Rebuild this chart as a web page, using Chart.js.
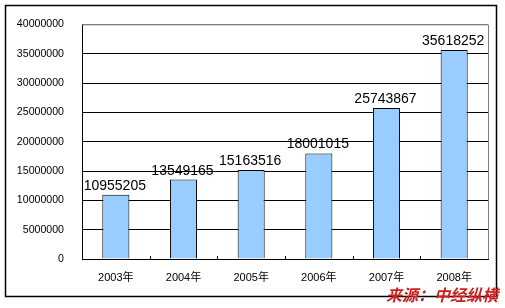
<!DOCTYPE html>
<html>
<head>
<meta charset="utf-8">
<script src="https://cdn.jsdelivr.net/npm/chart.js@4/dist/chart.umd.min.js"></script>
<style>
  html, body { margin: 0; padding: 0; background: #fff; }
  #wrap { width: 505px; height: 308px; }
</style>
</head>
<body>
<div id="wrap"><canvas id="c" width="505" height="308"></canvas></div>
<script>
const years = ['2003年', '2004年', '2005年', '2006年', '2007年', '2008年'];
const values = [10955205, 13549165, 15163516, 18001015, 25743867, 35618252];
const yTicks = [0, 5000000, 10000000, 15000000, 20000000, 25000000, 30000000, 35000000, 40000000];
const sourceText = '来源：中经纵横';

// frame, plot border, tick marks, value labels, source note
const decorations = {
  id: 'decorations',
  afterDraw(chart) {
    const ctx = chart.ctx;
    const area = chart.chartArea;
    const x = chart.scales.x;
    ctx.save();

    // gray border on the top and right of the plot
    ctx.strokeStyle = '#808080';
    ctx.lineWidth = 1;
    ctx.beginPath();
    ctx.moveTo(area.left, area.top + 0.5);
    ctx.lineTo(area.right + 0.5, area.top + 0.5);
    ctx.lineTo(area.right + 0.5, area.bottom);
    ctx.stroke();

    // small tick marks between categories, pointing up
    ctx.strokeStyle = '#000';
    ctx.beginPath();
    for (let i = 1; i < years.length; i++) {
      const px = Math.round((x.getPixelForValue(i - 1) + x.getPixelForValue(i)) / 2) + 0.5;
      ctx.moveTo(px, area.bottom);
      ctx.lineTo(px, area.bottom - 3);
    }
    ctx.stroke();

    // value labels above bars
    const meta = chart.getDatasetMeta(0);
    ctx.fillStyle = '#000';
    ctx.font = '14px "Liberation Sans", Arial, sans-serif';
    ctx.textAlign = 'center';
    ctx.textBaseline = 'alphabetic';
    meta.data.forEach((bar, i) => {
      ctx.fillText(String(values[i]), bar.x - 1, bar.y - 5);
    });

    // outer frame
    ctx.strokeStyle = '#000';
    ctx.lineWidth = 1.5;
    ctx.strokeRect(5.5, 5.5, 491, 291);

    // source note
    ctx.fillStyle = '#cc1f1f';
    ctx.font = 'italic bold 16px "Noto Sans CJK SC", sans-serif';
    ctx.textAlign = 'right';
    ctx.textBaseline = 'middle';
    ctx.fillText(sourceText, 498, 295);
    ctx.restore();
  }
};

new Chart(document.getElementById('c'), {
  type: 'bar',
  data: {
    labels: years,
    datasets: [{
      data: values,
      backgroundColor: '#99CCFF',
      borderColor: '#000',
      borderWidth: 1,
      barPercentage: 0.4,
      categoryPercentage: 1
    }]
  },
  options: {
    responsive: false,
    animation: false,
    layout: { padding: { left: 0, right: 17, top: 24, bottom: 0 } },
    plugins: { legend: { display: false }, tooltip: { enabled: false } },
    scales: {
      x: {
        grid: { display: false, drawTicks: false },
        border: { color: '#000', width: 1 },
        ticks: {
          color: '#000',
          padding: 12,
          font: { size: 11, family: '"Liberation Sans", "Noto Sans CJK SC", sans-serif' }
        },
        afterFit(scale) { scale.height = 49; }
      },
      y: {
        min: 0,
        max: 40000000,
        afterBuildTicks(scale) { scale.ticks = yTicks.map(v => ({ value: v })); },
        grid: {
          color: ctx => (ctx.tick && ctx.tick.value === 40000000 ? '#808080' : '#000'),
          drawTicks: false
        },
        border: { color: '#000', width: 1 },
        ticks: {
          color: '#000',
          padding: 18,
          font: { size: 10.6, family: '"Liberation Sans", Arial, sans-serif' },
          callback: v => String(v)
        },
        afterFit(scale) { scale.width = 82; }
      }
    }
  },
  plugins: [decorations]
});
</script>
</body>
</html>
